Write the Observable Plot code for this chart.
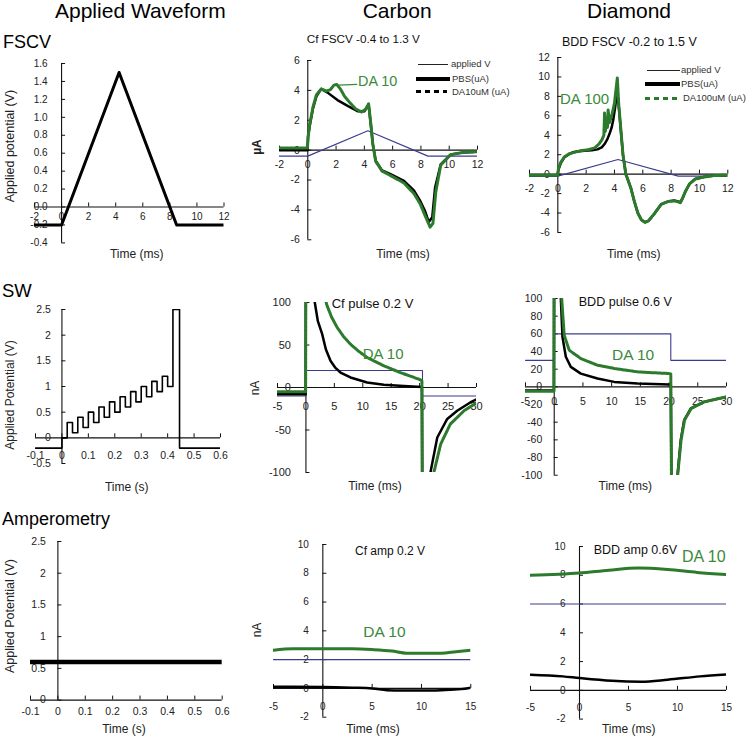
<!DOCTYPE html>
<html><head><meta charset="utf-8">
<script src="https://cdn.jsdelivr.net/npm/d3@7"></script>
<script src="https://cdn.jsdelivr.net/npm/@observablehq/plot@0.6"></script>
<style>
body{margin:0;background:#fff;}
#root{position:relative;width:747px;height:738px;overflow:hidden;background:#fff;}
</style></head><body><div id="root"></div>
<script>
// ---------- DATA ----------
// Applied waveforms
const fscvWaveT = [-2, 0, 4.25, 8.5, 12];
const fscvWaveV = [-0.2, -0.2, 1.5, -0.2, -0.2];
const swWaveT = [-0.1, 0, 0.02, 0.04, 0.06, 0.08, 0.10, 0.12, 0.14, 0.16, 0.18, 0.20, 0.22, 0.24, 0.26, 0.28, 0.30, 0.32, 0.34, 0.36, 0.38, 0.40, 0.42, 0.445, 0.6];
const swWaveV = [-0.2, 0, 0.3, 0.1, 0.4, 0.2, 0.5, 0.3, 0.6, 0.4, 0.7, 0.5, 0.8, 0.6, 0.9, 0.7, 1.0, 0.8, 1.1, 0.9, 1.2, 1.0, 2.5, -0.2, -0.2];
const ampWaveT = [-0.1, 0.6];
const ampWaveV = [0.6, 0.6];

// Carbon FSCV (µA)
const cfFscvAppT = [-2, 0, 4.25, 8.5, 12];
const cfFscvAppV = [-0.4, -0.4, 1.3, -0.4, -0.4];
const cfFscvPbsT = [-2, -0.02, 0.02, 0.15, 0.37, 0.61, 0.95, 1.4, 2.1, 2.85, 3.55, 4.0, 4.2, 4.3, 4.45, 4.6, 4.8, 5.25, 5.85, 6.8, 7.5, 7.95, 8.3, 8.55, 8.8, 9.0, 9.4, 10.1, 11, 12];
const cfFscvPbsV = [0, 0, 0.9, 1.7, 2.8, 3.6, 4.1, 3.85, 3.35, 2.95, 2.6, 2.6, 2.9, 3.05, 1.8, 0.4, -0.7, -1.35, -1.6, -2.05, -2.7, -3.4, -4.1, -4.8, -4.5, -2.5, -0.95, -0.3, -0.15, -0.1];
const cfFscvDaT = [-2, -0.02, 0.02, 0.15, 0.37, 0.61, 0.95, 1.3, 1.6, 1.85, 2.05, 2.3, 2.6, 3.0, 3.4, 3.8, 4.1, 4.3, 4.45, 4.6, 4.8, 5.25, 5.85, 6.8, 7.5, 7.95, 8.3, 8.65, 8.85, 9.05, 9.4, 10.1, 11, 12];
const cfFscvDaV = [0.15, 0.15, 0.9, 1.8, 2.9, 3.7, 4.1, 3.95, 4.05, 4.35, 4.4, 4.1, 3.6, 3.15, 2.75, 2.55, 2.75, 3.1, 1.8, 0.4, -0.75, -1.4, -1.7, -2.2, -2.9, -3.6, -4.4, -5.15, -4.9, -2.8, -1.0, -0.3, -0.15, -0.1];
const cfFscvPointer = [{x1: 2.2, y1: 4.35, x2: 3.5, y2: 4.4}];

// Diamond FSCV (µA)
const bddFscvAppT = [-2, 0, 4.25, 8.5, 12];
const bddFscvAppV = [-0.2, -0.2, 1.5, -0.2, -0.2];
const bddFscvPbsT = [-2, -0.02, 0.05, 0.2, 0.47, 0.8, 1.06, 1.5, 1.9, 2.4, 2.8, 3.1, 3.3, 3.5, 3.65, 3.8, 3.9, 4.05, 4.18, 4.3, 4.45, 4.6, 4.8, 5.0, 5.17, 5.4, 5.65, 5.9, 6.15, 6.4, 6.8, 7.3, 7.8, 8.2, 8.5, 8.65, 8.8, 9.0, 9.3, 9.7, 10.3, 11, 12];
const bddFscvPbsV = [-0.1, -0.1, 0.5, 1.1, 1.75, 2.05, 2.25, 2.35, 2.4, 2.45, 2.55, 2.75, 3.1, 3.6, 4.15, 4.8, 5.5, 6.9, 8.7, 7.0, 4.5, 2.0, 0, -0.8, -1.5, -2.8, -4.0, -4.7, -4.95, -4.8, -4.1, -3.1, -2.8, -2.7, -2.8, -2.9, -2.5, -1.8, -1.0, -0.5, -0.3, -0.15, -0.1];
const bddFscvDaT = [-2, -0.02, 0.05, 0.2, 0.47, 0.8, 1.2, 1.6, 2.1, 2.6, 2.9, 3.1, 3.25, 3.3, 3.35, 3.45, 3.5, 3.55, 3.65, 3.8, 4.0, 4.1, 4.2, 4.3, 4.45, 4.6, 4.8, 5.0, 5.17, 5.4, 5.65, 5.9, 6.15, 6.4, 6.8, 7.3, 7.8, 8.2, 8.5, 8.65, 8.8, 9.0, 9.3, 9.7, 10.3, 11, 12];
const bddFscvDaV = [-0.1, -0.1, 0.6, 1.2, 1.8, 2.1, 2.25, 2.4, 2.5, 2.7, 3.1, 3.5, 4.0, 6.3, 4.4, 5.8, 4.8, 6.6, 5.3, 6.0, 7.3, 8.6, 9.9, 7.2, 4.6, 2.0, 0, -0.8, -1.5, -2.8, -4.0, -4.7, -4.95, -4.8, -4.1, -3.1, -2.8, -2.75, -2.85, -2.95, -2.5, -1.8, -1.0, -0.5, -0.3, -0.15, -0.1];

// Carbon pulse (nA)
const cfSwAppT = [-5, 0, 20.5, 30];
const cfSwAppV = [-10, 20, -10, -10];
const cfSwPbsT = [-5, -0.05, 0, 1.2, 1.56, 2.1, 2.86, 3.5, 4.32, 5.2, 6.08, 7.84, 10.77, 13.7, 16.5, 19.57, 20.4, 20.5, 21.0, 21.9, 23.1, 24.85, 26.6, 28.9, 30];
const cfSwPbsV = [-8, -8, 200, 130, 100, 78, 62.8, 45, 31.4, 23, 17.6, 11.8, 5.9, 3.2, 2, 1, 0.5, -200, -200, -100, -58.8, -37, -27.4, -17.6, -14];
const cfSwDaT = [-5, -0.05, 0, 3.0, 3.62, 4.5, 5.5, 6.6, 7.84, 9.2, 10.77, 13.7, 16.6, 19.85, 20.4, 20.5, 21.3, 22.5, 23.7, 25.4, 27.8, 30];
const cfSwDaV = [-5, -5, 200, 125, 98, 83, 70.6, 60, 51, 43, 35.3, 25.5, 17.6, 9.8, 8, -200, -200, -100, -66.6, -43, -27.4, -18];

// Diamond pulse (nA)
const bddSwAppT = [-5, 0, 20.3, 30];
const bddSwAppV = [30, 60, 30, 30];
const bddSwPbsT = [-5, -0.05, 0, 0.9, 1.15, 1.44, 2.02, 2.89, 4.63, 7.54, 10.44, 14.5, 20.0, 20.3, 20.5, 20.8, 21.47, 22.04, 22.63, 23.8, 26.1, 30];
const bddSwPbsV = [-4, -4, 200, 200, 100, 56.5, 34, 22.6, 15, 9.4, 5.6, 3.7, 2.6, 2.4, -200, -200, -100, -60, -37.6, -24.5, -17, -11.3];
const bddSwDaT = [-5, -0.05, 0, 0.9, 1.3, 1.74, 2.61, 4.63, 7.54, 10.44, 14.5, 20.0, 20.3, 20.5, 20.8, 21.5, 22.1, 22.7, 23.85, 26.1, 30];
const bddSwDaV = [-5, -5, 200, 200, 100, 58.5, 41.5, 32, 24.5, 20.8, 17, 15, 14.5, -200, -200, -100, -60, -37.6, -24.5, -17, -11.3];

// Amperometry (nA)
const cfAmpAppT = [-5, 15];
const cfAmpAppV = [2, 2];
const cfAmpPbsT = [-5, 0, 3, 5, 6.5, 8, 10, 12, 14, 15];
const cfAmpPbsV = [0.12, 0.1, 0.05, 0, -0.12, -0.15, -0.15, -0.12, -0.05, 0.05];
const cfAmpDaT = [-5, -3, 0, 3, 5, 7, 8.5, 10, 12, 13.5, 15];
const cfAmpDaV = [2.65, 2.75, 2.75, 2.75, 2.7, 2.6, 2.45, 2.45, 2.45, 2.55, 2.65];
const bddAmpAppT = [-5, 15];
const bddAmpAppV = [6, 6];
const bddAmpPbsT = [-5, -1.7, 0, 3.3, 6.3, 9, 12.3, 15];
const bddAmpPbsV = [1.09, 0.97, 0.85, 0.66, 0.6, 0.74, 0.97, 1.1];
const bddAmpDaT = [-5, 0, 3, 6, 9, 12, 15];
const bddAmpDaV = [8.0, 8.15, 8.35, 8.5, 8.4, 8.2, 8.05];

// Ticks
const ticksFscvX = [-2, 0, 2, 4, 6, 8, 10, 12];
const ticksWaveFscvY = [-0.4, -0.2, 0, 0.2, 0.4, 0.6, 0.8, 1.0, 1.2, 1.4, 1.6];
const ticksCfFscvY = [-6, -4, -2, 0, 2, 4, 6];
const ticksBddFscvY = [-6, -4, -2, 0, 2, 4, 6, 8, 10, 12];
const ticksSecX = [-0.1, 0, 0.1, 0.2, 0.3, 0.4, 0.5, 0.6];
const ticksSwWaveY = [-0.5, 0, 0.5, 1, 1.5, 2, 2.5];
const ticksPulseX = [-5, 0, 5, 10, 15, 20, 25, 30];
const ticksCfPulseY = [-100, -50, 0, 50, 100];
const ticksBddPulseY = [-100, -80, -60, -40, -20, 0, 20, 40, 60, 80, 100];
const ticksAmpWaveY = [0, 0.5, 1, 1.5, 2, 2.5];
const ticksAmpX = [-5, 0, 5, 10, 15];
const ticksAmpY = [-2, 0, 2, 4, 6, 8, 10];

// ---------- DRAWING ----------
const root = document.getElementById("root");
const FONT = '"Liberation Sans", Arial, sans-serif';
const NAVY = "#3c3c8e", GREEN = "#2c7a2c", GREEN_T = "#3a8a3a", INK = "#111";
const zip = (t, v) => t.map((d, i) => ({t: d, v: v[i]}));

function panel(c) {
  const mL = 70, mR = 30, mT = 25, mB = 35;
  const pw = c.px[1] - c.px[0], ph = c.py[1] - c.py[0];
  const ky = (c.yd[1] - c.yd[0]) * 4 / ph, kx = (c.xd[1] - c.xd[0]) * 4 / pw;
  const fs = c.fs || 10.5;
  const svg = Plot.plot({
    width: pw + mL + mR, height: ph + mT + mB,
    marginLeft: mL, marginRight: mR, marginTop: mT, marginBottom: mB,
    x: {domain: c.xd, axis: null},
    y: {domain: c.yd, axis: null},
    style: {background: "transparent", overflow: "visible", fontFamily: FONT},
    marks: [
      Plot.ruleY([0], {x1: c.xd[0], x2: c.xd[1], stroke: INK, strokeWidth: 1.1}),
      Plot.ruleX([0], {y1: c.yd[0], y2: c.yd[1], stroke: INK, strokeWidth: 1.1}),
      Plot.ruleX(c.xt, {x: d => d, y1: 0, y2: ky, stroke: INK}),
      Plot.ruleY(c.yt, {y: d => d, x1: 0, x2: kx, stroke: INK}),
      Plot.text(c.xt, {x: d => d, y: 0, dy: c.dy, text: c.xf || (d => String(d)), fontSize: fs, fill: "#222"}),
      Plot.text(c.yt, {x: 0, y: d => d, dx: c.dx, text: c.yf || (d => String(d)), textAnchor: "end", fontSize: fs, fill: "#222"}),
      ...c.marks
    ]
  });
  Object.assign(svg.style, {position: "absolute", left: (c.px[0] - mL) + "px", top: (c.py[0] - mT) + "px"});
  root.appendChild(svg);
}

const ln = (t, v, o) => Plot.line(zip(t, v), {x: "t", y: "v", clip: true, strokeLinejoin: "round", ...o});

// Row 1: FSCV
panel({xd: [-2, 12], px: [33.5, 223], yd: [-0.4, 1.6], py: [63.3, 242.7],
  xt: ticksFscvX, yt: ticksWaveFscvY, yf: d => d.toFixed(1), dx: -14, dy: 10, fs: 10,
  marks: [ln(fscvWaveT, fscvWaveV, {stroke: "#000", strokeWidth: 3})]});

panel({xd: [-2, 12], px: [279, 477], yd: [-6, 6], py: [60, 239.3],
  xt: ticksFscvX, yt: ticksCfFscvY, dx: -8, dy: 14,
  marks: [
    ln(cfFscvAppT, cfFscvAppV, {stroke: NAVY, strokeWidth: 1.1}),
    ln(cfFscvPbsT, cfFscvPbsV, {stroke: "#000", strokeWidth: 2.5}),
    ln(cfFscvDaT, cfFscvDaV, {stroke: GREEN, strokeWidth: 3, strokeDasharray: "4,1"}),
    Plot.link(cfFscvPointer, {x1: "x1", y1: "y1", x2: "x2", y2: "y2", stroke: GREEN_T, strokeWidth: 1.2})
  ]});

panel({xd: [-2, 12], px: [528.7, 727], yd: [-6, 12], py: [57, 232],
  xt: ticksFscvX, yt: ticksBddFscvY, dx: -8, dy: 14.6,
  marks: [
    ln(bddFscvAppT, bddFscvAppV, {stroke: NAVY, strokeWidth: 1.1}),
    ln(bddFscvPbsT, bddFscvPbsV, {stroke: "#000", strokeWidth: 2.5}),
    ln(bddFscvDaT, bddFscvDaV, {stroke: GREEN, strokeWidth: 3, strokeDasharray: "4,1"})
  ]});

// Row 2: SW / pulse
panel({xd: [-0.1, 0.6], px: [35, 220], yd: [-0.5, 2.5], py: [309.3, 463.3],
  xt: ticksSecX, yt: ticksSwWaveY, dx: -11, dy: 18,
  marks: [ln(swWaveT, swWaveV, {stroke: "#000", strokeWidth: 1.6, curve: "step-after"})]});

panel({xd: [-5, 30], px: [277, 476], yd: [-100, 100], py: [301.7, 471.7],
  xt: ticksPulseX, yt: ticksCfPulseY, dx: -15, dy: 19, fs: 11,
  marks: [
    ln(cfSwAppT, cfSwAppV, {stroke: NAVY, strokeWidth: 1.1, curve: "step-after"}),
    ln(cfSwPbsT, cfSwPbsV, {stroke: "#000", strokeWidth: 2.5}),
    ln(cfSwDaT, cfSwDaV, {stroke: GREEN, strokeWidth: 3, strokeDasharray: "3,1"})
  ]});

panel({xd: [-5, 30], px: [525, 726], yd: [-100, 100], py: [298.3, 475],
  xt: ticksPulseX, yt: ticksBddPulseY, dx: -12, dy: 15,
  marks: [
    ln(bddSwAppT, bddSwAppV, {stroke: NAVY, strokeWidth: 1.1, curve: "step-after"}),
    ln(bddSwPbsT, bddSwPbsV, {stroke: "#000", strokeWidth: 2.5}),
    ln(bddSwDaT, bddSwDaV, {stroke: GREEN, strokeWidth: 3, strokeDasharray: "3,1"})
  ]});

// Row 3: Amperometry
panel({xd: [-0.1, 0.6], px: [30, 221.7], yd: [0, 2.5], py: [540.7, 699.3],
  xt: ticksSecX, yt: ticksAmpWaveY, dx: -12, dy: 12,
  marks: [ln(ampWaveT, ampWaveV, {stroke: "#000", strokeWidth: 4.5})]});

panel({xd: [-5, 15], px: [272.7, 470], yd: [-2, 10], py: [544, 716.7],
  xt: ticksAmpX, yt: ticksAmpY, dx: -14, dy: 18, fs: 10,
  marks: [
    ln(cfAmpAppT, cfAmpAppV, {stroke: NAVY, strokeWidth: 1.1}),
    ln(cfAmpPbsT, cfAmpPbsV, {stroke: "#000", strokeWidth: 2.5, curve: "monotone-x"}),
    ln(cfAmpDaT, cfAmpDaV, {stroke: GREEN, strokeWidth: 3, curve: "monotone-x"})
  ]});

panel({xd: [-5, 15], px: [530.3, 726.3], yd: [-2, 10], py: [545.7, 718.3],
  xt: ticksAmpX, yt: ticksAmpY, dx: -14, dy: 17, fs: 10,
  marks: [
    ln(bddAmpAppT, bddAmpAppV, {stroke: NAVY, strokeWidth: 1.1}),
    ln(bddAmpPbsT, bddAmpPbsV, {stroke: "#000", strokeWidth: 2.5, curve: "monotone-x"}),
    ln(bddAmpDaT, bddAmpDaV, {stroke: GREEN, strokeWidth: 3, curve: "monotone-x"})
  ]});

// ---------- TEXT ----------
function label(txt, x, y, o = {}) {
  const d = document.createElement("div");
  d.textContent = txt;
  const fs = o.fs || 12;
  Object.assign(d.style, {position: "absolute", whiteSpace: "nowrap", lineHeight: "1",
    fontSize: fs + "px", fontFamily: FONT, color: o.color || "#000",
    fontWeight: o.bold ? "bold" : "normal", left: x + "px", top: (y - 0.85 * fs) + "px"});
  if (o.center) d.style.transform = "translateX(-50%)";
  root.appendChild(d);
}
function vlabel(txt, cx, cy, o = {}) {
  const d = document.createElement("div");
  d.textContent = txt;
  const fs = o.fs || 12;
  Object.assign(d.style, {position: "absolute", whiteSpace: "nowrap", lineHeight: "1",
    fontSize: fs + "px", fontFamily: FONT, color: o.color || "#222",
    fontWeight: o.bold ? "bold" : "normal", left: cx + "px", top: cy + "px",
    transform: "translate(-50%,-50%) rotate(-90deg)"});
  root.appendChild(d);
}
function swatch(x, y, w, h, bg) {
  const d = document.createElement("div");
  Object.assign(d.style, {position: "absolute", left: x + "px", top: (y - h / 2) + "px",
    width: w + "px", height: h + "px", background: bg});
  root.appendChild(d);
}

// Column headers
label("Applied Waveform", 55, 18, {fs: 21});
label("Carbon", 362.7, 17.5, {fs: 21});
label("Diamond", 587, 17.5, {fs: 21});
// Row labels
label("FSCV", 3, 48.3, {fs: 18});
label("SW", 2, 298, {fs: 18.5});
label("Amperometry", 2, 525, {fs: 18});

// Panel titles
label("Cf FSCV -0.4 to 1.3 V", 306.7, 43.3, {fs: 11.7, color: "#111"});
label("BDD FSCV -0.2 to 1.5 V", 562, 46.7, {fs: 12.5, color: "#111"});
label("Cf pulse 0.2 V", 331.7, 308.3, {fs: 13, color: "#111"});
label("BDD pulse 0.6 V", 578.7, 306.7, {fs: 12.6, color: "#111"});
label("Cf amp 0.2 V", 355, 555, {fs: 12, color: "#111"});
label("BDD amp 0.6V", 593.7, 555, {fs: 12.5, color: "#111"});

// DA annotations
label("DA 10", 358, 86.7, {fs: 14.4, color: GREEN_T});
label("DA 100", 560, 103.3, {fs: 15, color: GREEN_T});
label("DA 10", 362.7, 358.3, {fs: 15, color: GREEN_T});
label("DA 10", 612, 360, {fs: 15.5, color: GREEN_T});
label("DA 10", 363.3, 637.3, {fs: 15.5, color: GREEN_T});
label("DA 10", 682, 562.3, {fs: 16, color: GREEN_T});

// Axis titles
label("Time (ms)", 136.7, 258, {fs: 12, center: true, color: "#222"});
label("Time (ms)", 403, 258, {fs: 12, center: true, color: "#222"});
label("Time (ms)", 633.7, 258, {fs: 12, center: true, color: "#222"});
label("Time (s)", 126.7, 490.7, {fs: 12, center: true, color: "#222"});
label("Time (ms)", 375, 490, {fs: 12, center: true, color: "#222"});
label("Time (ms)", 625.3, 490, {fs: 12, center: true, color: "#222"});
label("Time (s)", 124, 733, {fs: 12, center: true, color: "#222"});
label("Time (ms)", 373, 733, {fs: 12, center: true, color: "#222"});
label("Time (ms)", 628.7, 733, {fs: 12, center: true, color: "#222"});

vlabel("Applied potential (V)", 10, 145.5, {fs: 12.5});
vlabel("Applied Potential (V)", 10, 395, {fs: 12});
vlabel("Applied Potential (V)", 10, 616, {fs: 12.5});
vlabel("µA", 257, 147, {fs: 12, bold: true});
vlabel("nA", 254.5, 387.5, {fs: 12});
vlabel("nA", 257, 630, {fs: 12});

// Legends
const dashBlack = "repeating-linear-gradient(90deg,#000 0 5px,transparent 5px 9px)";
const dashGreen = "repeating-linear-gradient(90deg," + GREEN + " 0 5px,transparent 5px 9px)";
swatch(418, 64.3, 30, 1, "#222");
label("applied V", 451, 67.5, {fs: 9.5, color: "#333"});
swatch(416, 79.3, 34, 4, "#000");
label("PBS(uA)", 452, 82.5, {fs: 9.5, color: "#333"});
swatch(416, 91.7, 31, 3, dashBlack);
label("DA10uM (uA)", 452, 95, {fs: 9.5, color: "#333"});

swatch(647, 70, 33, 1, "#222");
label("applied V", 681, 73.2, {fs: 9.5, color: "#333"});
swatch(645, 84.3, 35, 4, "#000");
label("PBS(uA)", 681, 87.5, {fs: 9.5, color: "#333"});
swatch(645, 98.3, 32, 3, dashGreen);
label("DA100uM (uA)", 683, 101.5, {fs: 9.5, color: "#333"});
</script></body></html>
